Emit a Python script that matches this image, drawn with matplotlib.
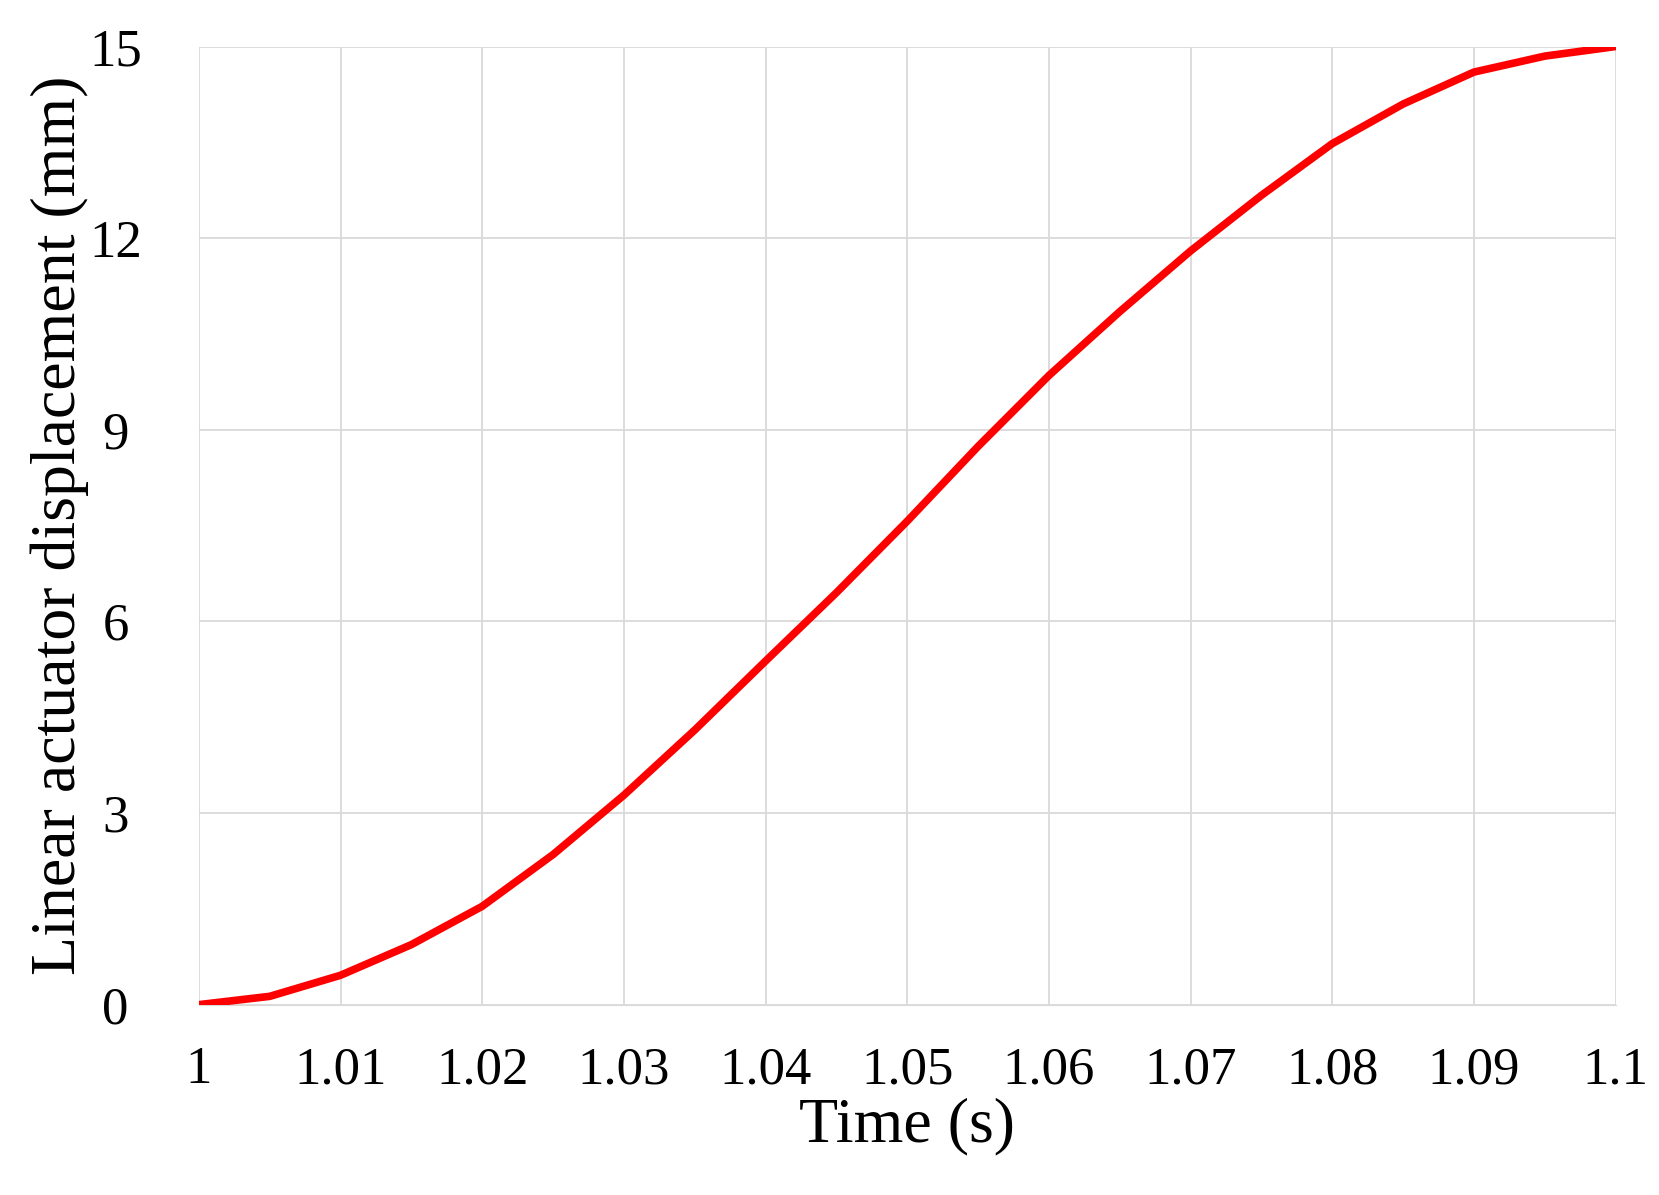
import matplotlib
matplotlib.use("Agg")
import matplotlib.pyplot as plt

time_s = [1.0, 1.005, 1.01, 1.015, 1.02, 1.025, 1.03, 1.035, 1.04, 1.045, 1.05,
          1.055, 1.06, 1.065, 1.07, 1.075, 1.08, 1.085, 1.09, 1.095, 1.1]
disp_mm = [0.0, 0.13, 0.46, 0.94, 1.54, 2.35, 3.28, 4.3, 5.38, 6.45, 7.57,
           8.74, 9.85, 10.85, 11.8, 12.67, 13.48, 14.1, 14.6, 14.85, 15.0]
xticks = [1, 1.01, 1.02, 1.03, 1.04, 1.05, 1.06, 1.07, 1.08, 1.09, 1.1]
xticklabels = ["1", "1.01", "1.02", "1.03", "1.04", "1.05", "1.06", "1.07", "1.08", "1.09", "1.1"]
yticks = [0, 3, 6, 9, 12, 15]

plt.rcParams['font.family'] = ['Liberation Serif', 'DejaVu Serif']
fig = plt.figure(figsize=(16.59, 11.95), dpi=100)
W, H = 1568, 1130
ax = fig.add_axes([188/W, 1 - 950/H, (1527-188)/W, (950-44)/H])
ax.plot(time_s, disp_mm, color='#ff0000', lw=5.5, solid_capstyle='round',
        solid_joinstyle='round', zorder=3)
ax.set_xlim(1, 1.1)
ax.set_ylim(0, 15)
ax.set_xticks(xticks)
ax.set_xticklabels(xticklabels)
ax.set_yticks(yticks)
ax.grid(True, color='#d9d9d9', lw=1.3)
for s in ['top', 'right', 'left']:
    ax.spines[s].set_visible(False)
ax.spines['bottom'].set_color('#d9d9d9')
ax.tick_params(length=0, labelsize=38, colors='black', pad=30)
ax.tick_params(axis='y', pad=60)
for l in ax.get_yticklabels():
    l.set_horizontalalignment('center')
ax.set_xlabel("Time (s)", fontsize=46, labelpad=2)
ax.set_ylabel("Linear actuator displacement (mm)", fontsize=46, labelpad=0)
fig.savefig("out.png", dpi=100)
